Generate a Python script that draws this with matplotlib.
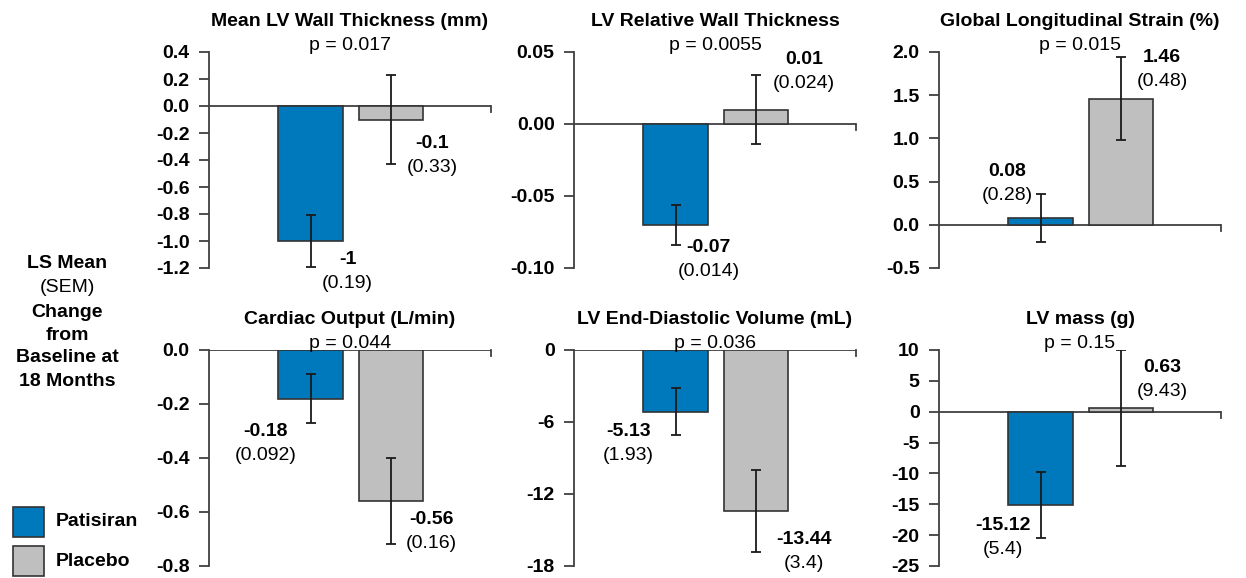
import numpy as np
import matplotlib.pyplot as plt
from matplotlib.patches import Rectangle

plt.rcParams['font.family'] = ['Liberation Sans', 'DejaVu Sans']

# Datos
groups = ['Patisiran', 'Placebo']
colors = ['#0079BC', '#BFBFBF']

titles = ['Mean LV Wall Thickness (mm)', 'LV Relative Wall Thickness',
          'Global Longitudinal Strain (%)', 'Cardiac Output (L/min)',
          'LV End-Diastolic Volume (mL)', 'LV mass (g)']
p_values = ['0.017', '0.0055', '0.015', '0.044', '0.036', '0.15']

means = [[-1, -0.1], [-0.07, 0.01], [0.08, 1.46],
         [-0.18, -0.56], [-5.13, -13.44], [-15.12, 0.63]]
sems = [[0.19, 0.33], [0.014, 0.024], [0.28, 0.48],
        [0.092, 0.16], [1.93, 3.4], [5.4, 9.43]]
mean_text = [['-1', '-0.1'], ['-0.07', '0.01'], ['0.08', '1.46'],
             ['-0.18', '-0.56'], ['-5.13', '-13.44'], ['-15.12', '0.63']]
sem_text = [['0.19', '0.33'], ['0.014', '0.024'], ['0.28', '0.48'],
            ['0.092', '0.16'], ['1.93', '3.4'], ['5.4', '9.43']]

y_ticks = [[0.4, 0.2, 0.0, -0.2, -0.4, -0.6, -0.8, -1.0, -1.2],
           [0.05, 0.00, -0.05, -0.10],
           [2.0, 1.5, 1.0, 0.5, 0.0, -0.5],
           [0.0, -0.2, -0.4, -0.6, -0.8],
           [0, -6, -12, -18],
           [10, 5, 0, -5, -10, -15, -20, -25]]
y_tick_labels = [['0.4', '0.2', '0.0', '-0.2', '-0.4', '-0.6', '-0.8', '-1.0', '-1.2'],
                 ['0.05', '0.00', '-0.05', '-0.10'],
                 ['2.0', '1.5', '1.0', '0.5', '0.0', '-0.5'],
                 ['0.0', '-0.2', '-0.4', '-0.6', '-0.8'],
                 ['0', '-6', '-12', '-18'],
                 ['10', '5', '0', '-5', '-10', '-15', '-20', '-25']]

# Posición de las etiquetas: desplazamiento (px) respecto al centro de la barra
# y posición vertical (px, relativa al borde superior del eje) de la línea en negrita
label_dx = [[37, 41], [33, 48], [-33, 41], [-45, 40], [-47, 48], [-38, 41]]
label_y = [[208, 91], [195, 8], [120, 5], [82, 170], [82, 190], [175, 17]]

W, H = 1246, 578
FS = 14
fig = plt.figure(figsize=(W / 100, H / 100), dpi=100)

ax_left = [209, 574, 939]
ax_top = [52, 350]
ax_w, ax_h = 282, 216

x = np.array([0, 1])
xlim = (-1.26, 2.24)
edge = '#333333'

for k in range(6):
    r, c = divmod(k, 3)
    ax = fig.add_axes([ax_left[c] / W, 1 - (ax_top[r] + ax_h) / H, ax_w / W, ax_h / H])
    ax.bar(x, means[k], width=0.8, color=colors, edgecolor=edge, linewidth=1.2, zorder=2)
    ax.errorbar(x, means[k], yerr=sems[k], fmt='none', ecolor='#1a1a1a',
                elinewidth=1.3, capsize=3.5, capthick=1.3, zorder=3)
    ax.set_xlim(*xlim)
    ax.set_ylim(min(y_ticks[k]), max(y_ticks[k]))
    ax.set_yticks(y_ticks[k])
    ax.set_yticklabels(y_tick_labels[k], fontsize=FS, fontweight='bold')
    ax.set_xticks([])
    for s in ['top', 'right', 'bottom']:
        ax.spines[s].set_visible(False)
    ax.spines['left'].set_color('#404040')
    ax.spines['left'].set_linewidth(1.3)
    ax.tick_params(axis='y', length=7, width=1.3, color='#404040', pad=7)

    # línea del cero con marca al final
    ax.axhline(0, color='#404040', linewidth=1.3, zorder=1)
    yr = ax.get_ylim()[1] - ax.get_ylim()[0]
    ax.plot([xlim[1], xlim[1]], [0, -yr * 6 / ax_h], color='#404040',
            linewidth=1.3, clip_on=False)

    ax.text(0.5, (ax_h + 31) / ax_h, titles[k], transform=ax.transAxes,
            ha='center', va='center', fontsize=FS, fontweight='bold')
    ax.text(0.5, (ax_h + 6) / ax_h, f'p = {p_values[k]}', transform=ax.transAxes,
            ha='center', va='center', fontsize=FS)

    for i in range(2):
        bx = (x[i] - xlim[0]) / (xlim[1] - xlim[0]) + label_dx[k][i] / ax_w
        by = 1 - label_y[k][i] / ax_h
        ax.text(bx, by, mean_text[k][i], transform=ax.transAxes,
                ha='center', va='center', fontsize=FS, fontweight='bold', clip_on=False)
        ax.text(bx, by - 24 / ax_h, f'({sem_text[k][i]})', transform=ax.transAxes,
                ha='center', va='center', fontsize=FS, clip_on=False)

# Texto lateral
side = [('LS Mean', 'bold', 263), ('(SEM)', 'normal', 288), ('Change', 'bold', 312),
        ('from', 'bold', 335), ('Baseline at', 'bold', 358), ('18 Months', 'bold', 382)]
for txt, w, yy in side:
    fig.text(67 / W, 1 - yy / H, txt, ha='center', va='center', fontsize=FS, fontweight=w)

# Leyenda
for i, g in enumerate(groups):
    top = 507 + i * 39
    fig.add_artist(Rectangle((13 / W, 1 - (top + 30) / H), 31 / W, 30 / H,
                             transform=fig.transFigure, facecolor=colors[i],
                             edgecolor=edge, linewidth=1.2))
    fig.text(56 / W, 1 - (top + 15) / H, g, ha='left', va='center',
             fontsize=FS, fontweight='bold')

plt.savefig('out.png', dpi=100)
